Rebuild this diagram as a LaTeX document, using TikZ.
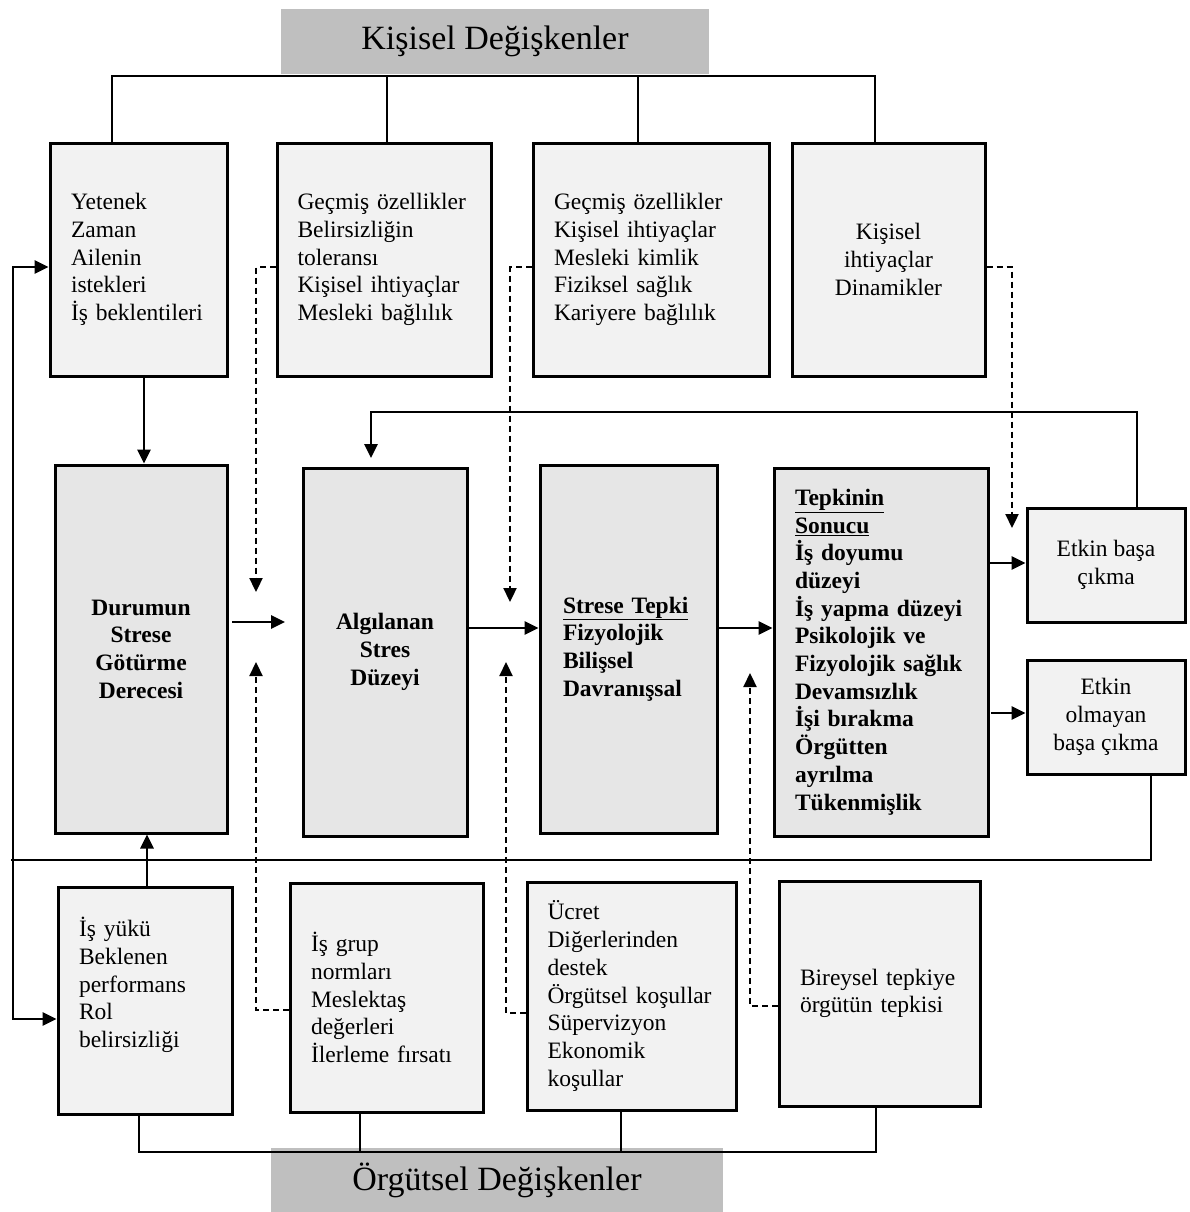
\documentclass[tikz,border=0pt]{standalone}
\usepackage{fontspec}
\setmainfont{Liberation Serif}
\usetikzlibrary{arrows.meta}
\definecolor{boxlight}{HTML}{F2F2F2}
\definecolor{boxmid}{HTML}{E6E6E6}
\definecolor{headgray}{HTML}{BFBFBF}
\begin{document}
\begin{tikzpicture}[x=1pt,y=-1pt,
  txt/.style={font=\fontsize{23.5}{27.7}\selectfont},
  lbox/.style={draw, line width=3pt, fill=boxlight, txt, inner sep=0pt, align=left},
  cbox/.style={draw, line width=3pt, fill=boxlight, txt, inner sep=0pt, align=center},
  mbox/.style={draw, line width=3pt, fill=boxmid, inner sep=0pt, font=\fontsize{23.5}{27.7}\selectfont\bfseries},
  head/.style={fill=headgray, inner sep=0pt, font=\fontsize{34}{40}\selectfont},
  conn/.style={line width=2.7pt},
  arr/.style={conn, -{Triangle[length=14pt,width=13pt]}},
  dsh/.style={line width=2.3pt, dash pattern=on 6pt off 4pt, -{Triangle[length=14pt,width=13pt]}},
]
\useasboundingbox (0,0) rectangle (1189,1212);
\fill[white] (0,0) rectangle (1189,1212);

% group headers
\node[head, minimum width=428pt, minimum height=65pt] (hk) at (495,41.5) {Kişisel Değişkenler};
\node[head, minimum width=452pt, minimum height=64pt] (ho) at (497,1180) {Örgütsel Değişkenler};

% personal variables
\node[lbox, minimum width=177pt, minimum height=233pt, text width=135pt] (k1) at (138.5,259.5)
  {Yetenek\\Zaman\\Ailenin\\istekleri\\İş beklentileri};
\node[lbox, minimum width=214pt, minimum height=233pt, text width=173pt] (k2) at (384,259.5)
  {Geçmiş özellikler\\Belirsizliğin\\toleransı\\Kişisel ihtiyaçlar\\Mesleki bağlılık};
\node[lbox, minimum width=236pt, minimum height=233pt, text width=194pt] (k3) at (651,259.5)
  {Geçmiş özellikler\\Kişisel ihtiyaçlar\\Mesleki kimlik\\Fiziksel sağlık\\Kariyere bağlılık};
\node[cbox, minimum width=193pt, minimum height=233pt] (k4) at (888.5,259.5)
  {Kişisel\\ihtiyaçlar\\Dinamikler};

% stress process
\node[mbox, align=center, minimum width=172pt, minimum height=368pt] (d) at (141,649)
  {Durumun\\Strese\\Götürme\\Derecesi};
\node[mbox, align=center, minimum width=164pt, minimum height=368pt] (a) at (385,652)
  {Algılanan\\Stres\\Düzeyi};
\node[mbox, align=left, minimum width=177pt, minimum height=368pt, text width=131pt] (s) at (628.5,649)
  {\underline{Strese Tepki}\\Fizyolojik\\Bilişsel\\Davranışsal};
\node[mbox, align=left, minimum width=214pt, minimum height=368pt, text width=172pt] (t) at (881,652)
  {\underline{Tepkinin}\\\underline{Sonucu}\\İş doyumu\\düzeyi\\İş yapma düzeyi\\Psikolojik ve\\Fizyolojik sağlık\\Devamsızlık\\İşi bırakma\\Örgütten\\ayrılma\\Tükenmişlik};

% coping outcomes
\node[cbox, minimum width=158pt, minimum height=114pt] (e1) at (1106,565) {Etkin başa\\çıkma};
\node[cbox, minimum width=158pt, minimum height=114pt] (e2) at (1106,717) {Etkin\\olmayan\\başa çıkma};

% organisational variables
\node[lbox, minimum width=174pt, minimum height=227pt, text width=132pt] (o1) at (145,1000.5)
  {İş yükü\\Beklenen\\performans\\Rol\\belirsizliği\\\strut};
\node[lbox, minimum width=193pt, minimum height=229pt, text width=151pt] (o2) at (386.5,997.5)
  {İş grup\\normları\\Meslektaş\\değerleri\\İlerleme fırsatı};
\node[lbox, minimum width=209pt, minimum height=228pt, text width=168pt] (o3) at (631.5,996)
  {Ücret\\Diğerlerinden\\destek\\Örgütsel koşullar\\Süpervizyon\\Ekonomik\\koşullar};
\node[lbox, minimum width=201pt, minimum height=225pt, text width=159pt] (o4) at (879.5,993.5)
  {Bireysel tepkiye\\örgütün tepkisi};

% top bus
\coordinate (tb1) at (112,76);
\coordinate (tb2) at (387,76);
\coordinate (tb3) at (638,76);
\coordinate (tb4) at (875,76);
\draw[conn] (k1.north -| tb1) -- (tb1) -- (tb4) -- (k4.north -| tb4);
\draw[conn] (tb2) -- (k2.north -| tb2);
\draw[conn] (tb3) -- (k3.north -| tb3);

% bottom bus
\coordinate (bb1) at (139,1152);
\coordinate (bb2) at (360,1152);
\coordinate (bb3) at (621,1152);
\coordinate (bb4) at (876,1152);
\draw[conn] (o1.south -| bb1) -- (bb1) -- (bb4) -- (o4.south -| bb4);
\draw[conn] (o2.south -| bb2) -- (bb2);
\draw[conn] (o3.south -| bb3) -- (bb3);

% vertical feeds into the first stage
\coordinate (c1) at (144,0);
\draw[arr] (k1.south -| c1) -- (d.north -| c1);
\coordinate (c2) at (147,0);
\draw[arr] (o1.north -| c2) -- (d.south -| c2);

% side loop linking both groups
\coordinate (l1) at (13,267);
\coordinate (l2) at (13,1019);
\draw[conn, {Triangle[length=14pt,width=13pt]}-{Triangle[length=14pt,width=13pt]}]
  (k1.west |- l1) -- (l1) -- (l2) -- (o1.west |- l2);

% dashed influences from above
\coordinate (p2) at (256,267); \coordinate (p2e) at (256,592);
\draw[dsh] (k2.west |- p2) -- (p2) -- (p2e);
\coordinate (p3) at (510,267); \coordinate (p3e) at (510,602);
\draw[dsh] (k3.west |- p3) -- (p3) -- (p3e);
\coordinate (p4) at (1012,267); \coordinate (p4e) at (1012,528);
\draw[dsh] (k4.east |- p4) -- (p4) -- (p4e);

% dashed influences from below
\coordinate (q2) at (256,1010); \coordinate (q2e) at (256,662);
\draw[dsh] (o2.west |- q2) -- (q2) -- (q2e);
\coordinate (q3) at (506,1013); \coordinate (q3e) at (506,662);
\draw[dsh] (o3.west |- q3) -- (q3) -- (q3e);
\coordinate (q4) at (750,1006); \coordinate (q4e) at (750,673);
\draw[dsh] (o4.west |- q4) -- (q4) -- (q4e);

% main flow
\coordinate (m1) at (232,622); \coordinate (m2) at (285,622);
\draw[arr] (m1) -- (m2);
\coordinate (h1) at (0,628);
\draw[arr] (a.east |- h1) -- (s.west |- h1);
\draw[arr] (s.east |- h1) -- (t.west |- h1);
\coordinate (h2) at (0,563);
\draw[arr] (t.east |- h2) -- (e1.west |- h2);
\coordinate (h3) at (991,713);
\draw[arr] (h3) -- (e2.west |- h3);

% feedback from effective coping
\coordinate (f1) at (1137,412); \coordinate (f2) at (371,412); \coordinate (f3) at (371,458);
\draw[arr] (e1.north -| f1) -- (f1) -- (f2) -- (f3);

% return line from ineffective coping
\coordinate (r1) at (1151,860); \coordinate (r2) at (11,860);
\draw[conn] (e2.south -| r1) -- (r1) -- (r2);
\end{tikzpicture}
\end{document}
